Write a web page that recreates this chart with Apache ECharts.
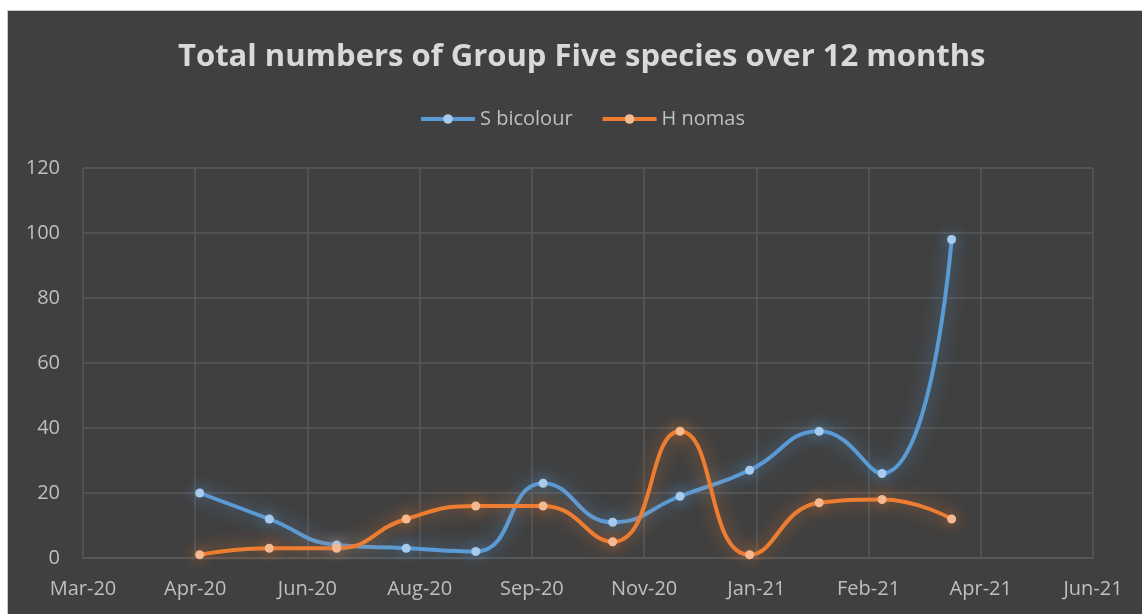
<!DOCTYPE html>
<html>
<head>
<meta charset="utf-8">
<script src="https://cdn.jsdelivr.net/npm/echarts@6/dist/echarts.min.js"></script>
<style>
  html, body { margin: 0; padding: 0; background: #ffffff; }
  #frame {
    position: absolute; left: 7px; top: 10px; width: 1135px; height: 604px;
    background: #404040; border-left: 1px solid #c8c8c8; border-top: 1px solid #c8c8c8;
  }
  #chart { position: absolute; left: 1px; top: 0; width: 1134px; height: 604px; }
</style>
</head>
<body>
<div id="frame"><div id="chart"></div></div>
<script>
// sample dates (one per month) and counts
const months = ['2020-05-01', '2020-06-01', '2020-07-01', '2020-08-01', '2020-09-01', '2020-10-01',
  '2020-11-01', '2020-12-01', '2021-01-01', '2021-02-01', '2021-03-01', '2021-04-01'];
const sBicolour = [20, 12, 4, 3, 2, 23, 11, 19, 27, 39, 26, 98];
const hNomas = [1, 3, 3, 12, 16, 16, 5, 39, 1, 17, 18, 12];

// date axis: starts 2020-03-10, one tick every 50 days
const axisStart = '2020-03-10';
const tickDays = 50;
const tickLabels = ['Mar-20', 'Apr-20', 'Jun-20', 'Aug-20', 'Sep-20', 'Nov-20',
  'Jan-21', 'Feb-21', 'Apr-21', 'Jun-21'];
const yTicks = [0, 20, 40, 60, 80, 100, 120];

const DAY = 86400000;
const dayOf = (s) => Math.round((Date.parse(s) - Date.parse(axisStart)) / DAY);
const toPoints = (vals) => vals.map((v, i) => [dayOf(months[i]), v]);

const font = '"Open Sans", "DejaVu Sans", sans-serif';
const labelColor = '#bfbfbf';
const gridColor = '#595959';

const chart = echarts.init(document.getElementById('chart'), null, { renderer: 'canvas' });

const lineSeries = (name, data, color, markerColor, glow) => ({
  name,
  type: 'line',
  data: toPoints(data),
  smooth: 0.5,
  symbol: 'circle',
  symbolSize: 9,
  lineStyle: { color, width: 4, shadowBlur: 18, shadowColor: glow },
  itemStyle: { color: markerColor, borderWidth: 0, shadowBlur: 14, shadowColor: glow },
  emphasis: { disabled: true },
});

chart.setOption({
  backgroundColor: '#404040',
  animation: false,
  textStyle: { fontFamily: font },
  title: {
    text: 'Total numbers of Group Five species over 12 months',
    left: 164,
    top: 26,
    textStyle: { color: '#d9d9d9', fontSize: 31, fontWeight: 'bold', fontFamily: font },
  },
  legend: {
    top: 93,
    left: 405,
    itemWidth: 54,
    itemHeight: 12,
    itemGap: 28,
    lineStyle: { width: 4 },
    textStyle: { color: labelColor, fontSize: 20, fontFamily: font },
    data: ['S bicolour', 'H nomas'],
  },
  grid: { left: 74, right: 50, top: 157, bottom: 57 },
  xAxis: {
    type: 'value',
    min: 0,
    max: tickDays * (tickLabels.length - 1),
    interval: tickDays,
    axisLine: { show: true, lineStyle: { color: gridColor, width: 1.5 } },
    axisTick: { show: false },
    splitLine: { show: true, lineStyle: { color: gridColor, width: 1.5 } },
    axisLabel: {
      color: labelColor, fontSize: 20, fontFamily: font, margin: 21,
      formatter: (v) => tickLabels[Math.round(v / tickDays)] || '',
    },
  },
  yAxis: {
    type: 'value',
    min: yTicks[0],
    max: yTicks[yTicks.length - 1],
    interval: yTicks[1] - yTicks[0],
    axisLine: { show: false },
    axisTick: { show: false },
    splitLine: { show: true, lineStyle: { color: gridColor, width: 1.5 } },
    axisLabel: { color: labelColor, fontSize: 20, fontFamily: font, margin: 23 },
  },
  series: [
    lineSeries('S bicolour', sBicolour, '#5b9bd5', '#a6cbee', 'rgba(91,155,213,0.75)'),
    lineSeries('H nomas', hNomas, '#ed7d31', '#f6b98f', 'rgba(237,125,49,0.7)'),
  ],
});
</script>
</body>
</html>
